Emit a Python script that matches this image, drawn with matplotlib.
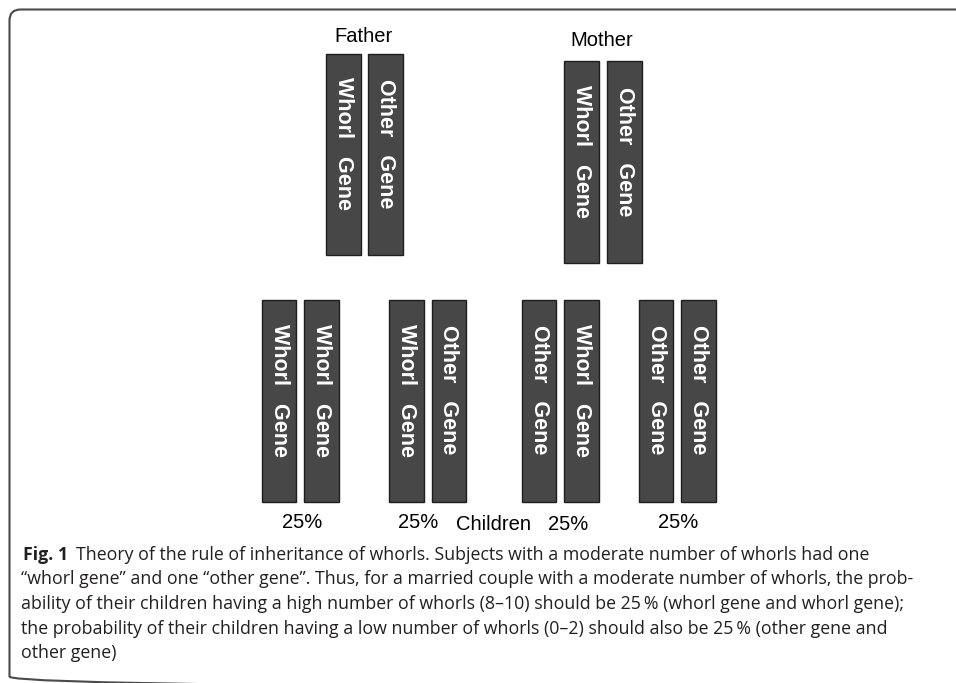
import matplotlib
matplotlib.use('Agg')
import matplotlib.pyplot as plt
from matplotlib.patches import Rectangle, FancyBboxPatch

# parents and their two genes
parents = ['Father', 'Mother']
parent_genes = [['Whorl', 'Other'], ['Whorl', 'Other']]

# the four possible children
children_genes = [['Whorl', 'Whorl'], ['Whorl', 'Other'], ['Other', 'Whorl'], ['Other', 'Other']]
children_pct = [25, 25, 25, 25]

caption_bold = 'Fig. 1'
caption_lines = [
    'Theory of the rule of inheritance of whorls. Subjects with a moderate number of whorls had one',
    '\u201cwhorl gene\u201d and one \u201cother gene\u201d. Thus, for a married couple with a moderate number of whorls, the prob-',
    'ability of their children having a high number of whorls (8\u201310) should be 25\u2009% (whorl gene and whorl gene);',
    'the probability of their children having a low number of whorls (0\u20132) should also be 25\u2009% (other gene and',
    'other gene)',
]

W, H = 956, 683
fig = plt.figure(figsize=(W / 100, H / 100), dpi=100)
ax = fig.add_axes([0, 0, 1, 1])
ax.set_xlim(0, W)
ax.set_ylim(H, 0)
ax.axis('off')

bar_w = 34.8
pitch = 42.3
bar_fc = '#474747'
bar_ec = '#1e1e1e'
sans = ['Liberation Sans', 'DejaVu Sans']


def draw_pair(x0, top, bottom, genes):
    for i, g in enumerate(genes):
        x = x0 + i * pitch
        ax.add_patch(Rectangle((x, top), bar_w, bottom - top, fc=bar_fc, ec=bar_ec, lw=1.0))
        ax.text(x + bar_w / 2, top + 0.447 * (bottom - top), g + '   Gene', rotation=-90,
                ha='center', va='center', color='white', fontsize=15.5, fontweight='bold',
                family=sans)


# parents
parent_x = [326, 564.5]
parent_top = [54, 61]
parent_bot = [255, 263]
parent_label_y = [37, 40]
for name, genes, x0, t, b, ly in zip(parents, parent_genes, parent_x, parent_top, parent_bot, parent_label_y):
    draw_pair(x0, t, b, genes)
    ax.text(x0 + (pitch + bar_w) / 2 - 1.5, ly, name, ha='center', va='center', fontsize=14.5,
            family=sans, color='black')

# children
child_x = [261.7, 389.3, 521.7, 638.7]
pct_x = [301.7, 417.7, 568.3, 677.7]
pct_y = [523, 522.5, 525, 523]
for genes, pct, x0, px, py in zip(children_genes, children_pct, child_x, pct_x, pct_y):
    draw_pair(x0, 300, 501.7, genes)
    ax.text(px, py, f'{pct}%', ha='center', va='center', fontsize=14.5, family=sans, color='black')
ax.text(493.3, 525, 'Children', ha='center', va='center', fontsize=14.5, family=sans, color='black')

# frame round the figure, bottom edge just below the picture
ax.add_patch(FancyBboxPatch((9.5, 9.5), 990, 678, boxstyle='round,pad=0,rounding_size=11',
                            fc='none', ec='#4a4a4a', lw=1.5, clip_on=False))

# caption, font size fitted so line 3 spans like the reference
cap_font = ['Open Sans', 'DejaVu Sans']
cap_color = '#231f20'
fig.canvas.draw()
r = fig.canvas.get_renderer()
probe = ax.text(0, 0, caption_lines[2], fontsize=12, family=cap_font)
w12 = probe.get_window_extent(r).width
probe.remove()
cap_size = 12 * (898 - 21) / w12

line_y = [555, 579.5, 604, 628.5, 653]
fb = ax.text(23, line_y[0], caption_bold, ha='left', va='center', fontsize=cap_size,
             fontweight='bold', family=cap_font, color=cap_color)
bw = fb.get_window_extent(r).width
ax.text(23 + bw + 8, line_y[0], caption_lines[0], ha='left', va='center', fontsize=cap_size,
        family=cap_font, color=cap_color)
for line, y in zip(caption_lines[1:], line_y[1:]):
    ax.text(21, y, line, ha='left', va='center', fontsize=cap_size, family=cap_font, color=cap_color)

fig.savefig('out.png', dpi=100)
